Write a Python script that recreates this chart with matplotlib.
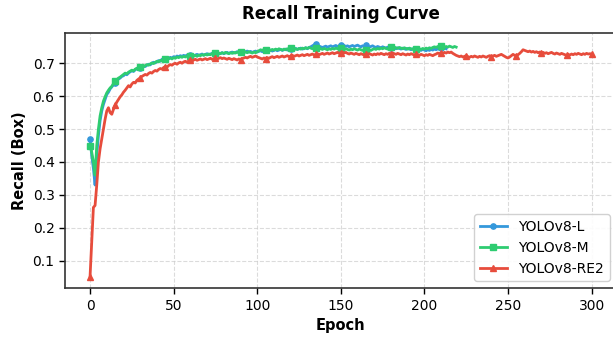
import numpy as np
import matplotlib
matplotlib.use("Agg")
import matplotlib.pyplot as plt

title = "Recall Training Curve"
x_label = "Epoch"
y_label = "Recall (Box)"
series_names = ["YOLOv8-L", "YOLOv8-M", "YOLOv8-RE2"]

recall_l = [
    0.470, 0.420, 0.380, 0.330, 0.420, 0.480, 0.525, 0.555, 0.575, 0.590,
    0.605, 0.612, 0.622, 0.628, 0.635, 0.640, 0.648, 0.652, 0.655, 0.660,
    0.662, 0.667, 0.665, 0.670, 0.674, 0.677, 0.675, 0.680, 0.683, 0.681,
    0.686, 0.689, 0.692, 0.690, 0.694, 0.697, 0.695, 0.700, 0.703, 0.701,
    0.705, 0.708, 0.706, 0.712, 0.710, 0.714, 0.716, 0.713, 0.718, 0.716,
    0.720, 0.718, 0.722, 0.720, 0.723, 0.721, 0.724, 0.722, 0.725, 0.723,
    0.726, 0.724, 0.722, 0.725, 0.727, 0.724, 0.726, 0.728, 0.725, 0.727,
    0.729, 0.726, 0.728, 0.730, 0.727, 0.729, 0.731, 0.728, 0.730, 0.732,
    0.729, 0.731, 0.733, 0.730, 0.732, 0.734, 0.731, 0.733, 0.735, 0.732,
    0.734, 0.736, 0.733, 0.735, 0.737, 0.734, 0.736, 0.733, 0.735, 0.737,
    0.734, 0.736, 0.738, 0.735, 0.737, 0.739, 0.736, 0.738, 0.740, 0.737,
    0.739, 0.741, 0.738, 0.740, 0.742, 0.739, 0.741, 0.743, 0.740, 0.742,
    0.744, 0.741, 0.743, 0.745, 0.742, 0.744, 0.746, 0.743, 0.745, 0.747,
    0.744, 0.748, 0.750, 0.753, 0.756, 0.757, 0.754, 0.752, 0.750, 0.748,
    0.750, 0.752, 0.749, 0.751, 0.753, 0.750, 0.752, 0.754, 0.751, 0.753,
    0.755, 0.752, 0.754, 0.751, 0.753, 0.750, 0.752, 0.754, 0.751, 0.753,
    0.755, 0.752, 0.750, 0.753, 0.751, 0.754, 0.752, 0.749, 0.751, 0.753,
    0.750, 0.748, 0.751, 0.749, 0.747, 0.750, 0.748, 0.746, 0.749, 0.747,
    0.745, 0.748, 0.746, 0.744, 0.747, 0.745, 0.743, 0.746, 0.744, 0.742,
    0.745, 0.743, 0.741, 0.744, 0.742, 0.740, 0.743, 0.741, 0.739, 0.742,
    0.740, 0.738, 0.741, 0.739, 0.742, 0.740, 0.743, 0.741, 0.744, 0.742,
    0.745, 0.743, 0.746, 0.744,
]

recall_m = [
    0.450, 0.430, 0.400, 0.360, 0.450, 0.500, 0.540, 0.565, 0.585, 0.598,
    0.610, 0.618, 0.625, 0.630, 0.638, 0.645, 0.650, 0.655, 0.658, 0.662,
    0.666, 0.670, 0.668, 0.673, 0.676, 0.679, 0.677, 0.682, 0.685, 0.683,
    0.688, 0.691, 0.689, 0.693, 0.696, 0.694, 0.698, 0.701, 0.699, 0.703,
    0.706, 0.704, 0.709, 0.707, 0.711, 0.713, 0.710, 0.714, 0.716, 0.713,
    0.717, 0.715, 0.719, 0.717, 0.720, 0.718, 0.721, 0.719, 0.722, 0.720,
    0.723, 0.726, 0.722, 0.724, 0.721, 0.725, 0.723, 0.726, 0.724, 0.727,
    0.725, 0.728, 0.726, 0.729, 0.727, 0.730, 0.728, 0.731, 0.729, 0.732,
    0.730, 0.733, 0.731, 0.729, 0.732, 0.730, 0.733, 0.731, 0.734, 0.732,
    0.735, 0.733, 0.736, 0.734, 0.732, 0.735, 0.733, 0.731, 0.734, 0.732,
    0.735, 0.738, 0.741, 0.739, 0.742, 0.740, 0.738, 0.741, 0.739, 0.742,
    0.740, 0.743, 0.741, 0.744, 0.742, 0.740, 0.743, 0.741, 0.744, 0.742,
    0.745, 0.743, 0.741, 0.744, 0.742, 0.745, 0.743, 0.746, 0.744, 0.747,
    0.745, 0.748, 0.746, 0.744, 0.747, 0.745, 0.743, 0.746, 0.744, 0.742,
    0.745, 0.743, 0.741, 0.744, 0.742, 0.745, 0.743, 0.746, 0.744, 0.742,
    0.745, 0.743, 0.741, 0.744, 0.742, 0.740, 0.743, 0.741, 0.744, 0.742,
    0.740, 0.743, 0.741, 0.739, 0.742, 0.740, 0.738, 0.741, 0.739, 0.742,
    0.744, 0.742, 0.745, 0.743, 0.746, 0.744, 0.747, 0.745, 0.743, 0.746,
    0.748, 0.746, 0.749, 0.747, 0.745, 0.748, 0.746, 0.744, 0.747, 0.745,
    0.743, 0.746, 0.744, 0.742, 0.745, 0.743, 0.741, 0.744, 0.742, 0.745,
    0.743, 0.746, 0.744, 0.747, 0.745, 0.748, 0.750, 0.748, 0.751, 0.749,
    0.752, 0.750, 0.748, 0.751, 0.749, 0.752, 0.750, 0.748, 0.751, 0.749,
]

recall_re2 = [
    0.052, 0.160, 0.262, 0.268, 0.330, 0.400, 0.440, 0.470, 0.500, 0.530,
    0.555, 0.565, 0.550, 0.545, 0.560, 0.572, 0.582, 0.590, 0.598, 0.604,
    0.612, 0.618, 0.625, 0.632, 0.628, 0.637, 0.642, 0.640, 0.648, 0.652,
    0.655, 0.660, 0.663, 0.666, 0.664, 0.669, 0.672, 0.670, 0.675, 0.678,
    0.676, 0.681, 0.684, 0.682, 0.687, 0.690, 0.688, 0.693, 0.696, 0.694,
    0.698, 0.700, 0.697, 0.701, 0.703, 0.700, 0.704, 0.706, 0.703, 0.707,
    0.709, 0.706, 0.710, 0.712, 0.709, 0.711, 0.713, 0.710, 0.712, 0.714,
    0.711, 0.713, 0.715, 0.712, 0.714, 0.716, 0.713, 0.715, 0.717, 0.714,
    0.716, 0.714, 0.712, 0.715, 0.713, 0.711, 0.714, 0.712, 0.710, 0.713,
    0.711, 0.714, 0.716, 0.718, 0.716, 0.719, 0.721, 0.718, 0.720, 0.722,
    0.719, 0.717, 0.715, 0.713, 0.716, 0.714, 0.717, 0.715, 0.718, 0.720,
    0.717, 0.719, 0.721, 0.718, 0.720, 0.722, 0.719, 0.721, 0.723, 0.720,
    0.722, 0.724, 0.721, 0.723, 0.725, 0.722, 0.724, 0.726, 0.723, 0.725,
    0.727, 0.724, 0.726, 0.728, 0.725, 0.727, 0.729, 0.726, 0.728, 0.730,
    0.727, 0.729, 0.731, 0.728, 0.730, 0.732, 0.729, 0.731, 0.733, 0.730,
    0.732, 0.734, 0.731, 0.733, 0.730, 0.728, 0.731, 0.729, 0.727, 0.730,
    0.728, 0.726, 0.729, 0.727, 0.725, 0.728, 0.726, 0.729, 0.727, 0.725,
    0.728, 0.726, 0.729, 0.727, 0.730, 0.728, 0.726, 0.729, 0.727, 0.730,
    0.728, 0.731, 0.729, 0.727, 0.730, 0.728, 0.726, 0.729, 0.727, 0.725,
    0.728, 0.726, 0.729, 0.727, 0.725, 0.728, 0.726, 0.724, 0.727, 0.725,
    0.723, 0.726, 0.724, 0.727, 0.725, 0.723, 0.726, 0.728, 0.731, 0.729,
    0.732, 0.730, 0.733, 0.731, 0.734, 0.732, 0.734, 0.730, 0.727, 0.724,
    0.722, 0.720, 0.722, 0.719, 0.721, 0.723, 0.720, 0.718, 0.721, 0.719,
    0.722, 0.720, 0.718, 0.721, 0.719, 0.722, 0.720, 0.718, 0.721, 0.723,
    0.720, 0.722, 0.724, 0.721, 0.723, 0.725, 0.727, 0.724, 0.721, 0.718,
    0.716, 0.719, 0.723, 0.727, 0.724, 0.722, 0.726, 0.730, 0.735, 0.741,
    0.739, 0.737, 0.735, 0.737, 0.734, 0.736, 0.733, 0.735, 0.732, 0.734,
    0.731, 0.733, 0.730, 0.732, 0.729, 0.731, 0.733, 0.730, 0.728, 0.731,
    0.729, 0.727, 0.730, 0.728, 0.726, 0.724, 0.727, 0.725, 0.728, 0.726,
    0.729, 0.727, 0.730, 0.728, 0.726, 0.729, 0.727, 0.730, 0.728, 0.729,
    0.728,
]

colors = ["#3498db", "#2ecc71", "#e74c3c"]
markers = ["o", "s", "^"]
all_series = [recall_l, recall_m, recall_re2]

plt.rcParams["font.family"] = ["DejaVu Sans"]

fig = plt.figure(figsize=(6.13, 3.39), dpi=100)
ax = fig.add_axes([0.106, 0.150, 0.900, 0.753])

for vals, name, c, m in zip(all_series, series_names, colors, markers):
    epochs = np.arange(len(vals))
    ax.plot(epochs, vals, color=c, lw=2.0, marker=m, markersize=3.8,
            markevery=15, label=name, zorder=3)

ax.set_title(title, fontsize=12, fontweight="bold", pad=10)
ax.set_xlabel(x_label, fontsize=10.5, fontweight="bold")
ax.set_ylabel(y_label, fontsize=10.5, fontweight="bold")
ax.grid(True, linestyle="--", color="#cccccc", alpha=0.7, lw=0.8)
ax.set_xticks([0, 50, 100, 150, 200, 250, 300])
ax.set_yticks([0.1, 0.2, 0.3, 0.4, 0.5, 0.6, 0.7])
ax.tick_params(labelsize=10, length=4, width=1)
for s in ax.spines.values():
    s.set_linewidth(1.2)
    s.set_color("#333333")
ax.legend(loc="lower right", fontsize=10, frameon=True, framealpha=0.9)

fig.savefig("out.png", dpi=100)
